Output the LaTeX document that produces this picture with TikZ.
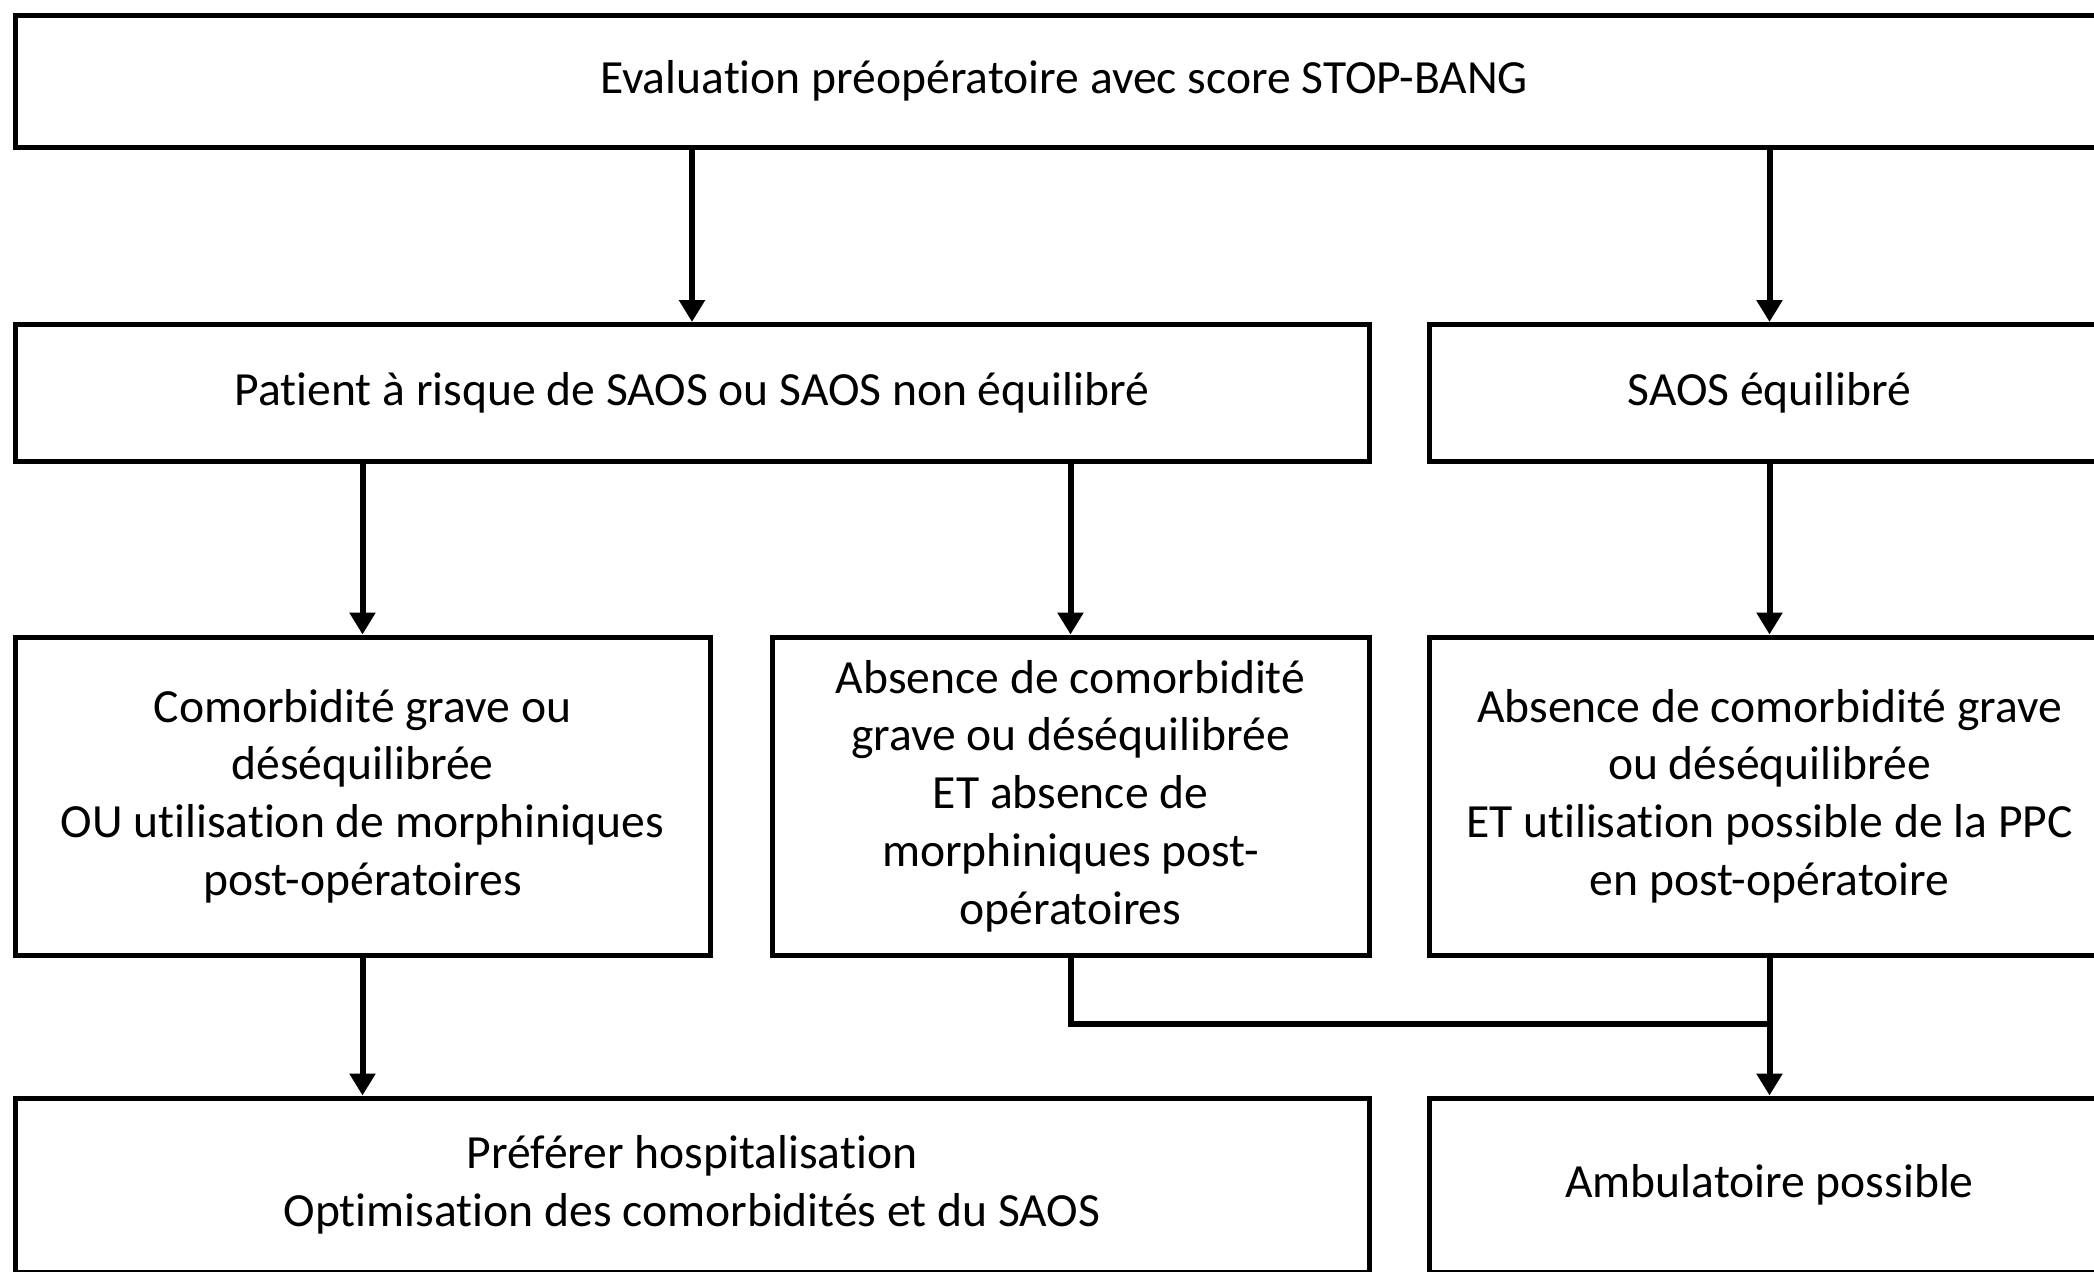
\documentclass[tikz,border=0pt]{standalone}
\usepackage{fontspec}
\setmainfont{Carlito}[Ligatures=NoCommon]
\usetikzlibrary{arrows.meta,positioning}

\begin{document}
\begin{tikzpicture}[
    x = 0.5pt, y = -0.5pt, % one unit per pixel, top down
    > = {Triangle[length=11pt,width=12.5pt]}, % arrow head style
    line width = 2.5pt, % line style
    link/.style = {line width = 3pt}
    ]

    \tikzset{box/.style={
    draw = black,
    fill = white,
    align = center,
    inner sep = 0pt,
    font = \fontsize{23.8}{28.9}\selectfont
    }}
    \useasboundingbox (0,0) rectangle (2094,1271);
    \clip (0,0) rectangle (2094,1271);

    \node[box, minimum width=1049pt, minimum height=66pt] (eval) at (1064,81)
      {Evaluation préopératoire avec score STOP-BANG};
    \node[box, minimum width=677pt, minimum height=68.25pt] (risk) at (692,392.75)
      {Patient à risque de SAOS ou SAOS non équilibré};
    \node[box, minimum width=340.5pt, minimum height=68.25pt] (stable) at (1769.5,392.75)
      {SAOS équilibré};
    \node[box, minimum width=347.5pt, minimum height=159pt] (grave) at (362.5,796)
      {Comorbidité grave ou\\déséquilibrée\\OU utilisation de morphiniques\\post-opératoires};
    \node[box, minimum width=298.5pt, minimum height=159pt] (nograve) at (1070.5,796)
      {Absence de comorbidité\\grave ou déséquilibrée\\ET absence de\\morphiniques post-\\opératoires};
    \node[box, minimum width=340.5pt, minimum height=159pt] (ppc) at (1769.5,796)
      {Absence de comorbidité grave\\ou déséquilibrée\\ET utilisation possible de la PPC\\en post-opératoire};
    \node[box, minimum width=677pt, minimum height=87pt] (hosp) at (692,1185)
      {Préférer hospitalisation\\Optimisation des comorbidités et du SAOS};
    \node[box, minimum width=340.5pt, minimum height=87pt] (ambu) at (1769.5,1185)
      {Ambulatoire possible};
    \coordinate (join) at (1769.5,1024);

    \draw[link,->] (eval.south -| risk.north) -- (risk.north);
    \draw[link,->] (eval.south -| stable.north) -- (stable.north);
    \draw[link,->] (risk.south -| grave.north) -- (grave.north);
    \draw[link,->] (risk.south -| nograve.north) -- (nograve.north);
    \path[link,->] (stable) edge (ppc);
    \draw[link,->] (grave.south) -- (grave.south |- hosp.north);
    \draw[link] (nograve.south) |- (join);
    \path[link,->] (ppc) edge (ambu);
\end{tikzpicture}
\end{document}
